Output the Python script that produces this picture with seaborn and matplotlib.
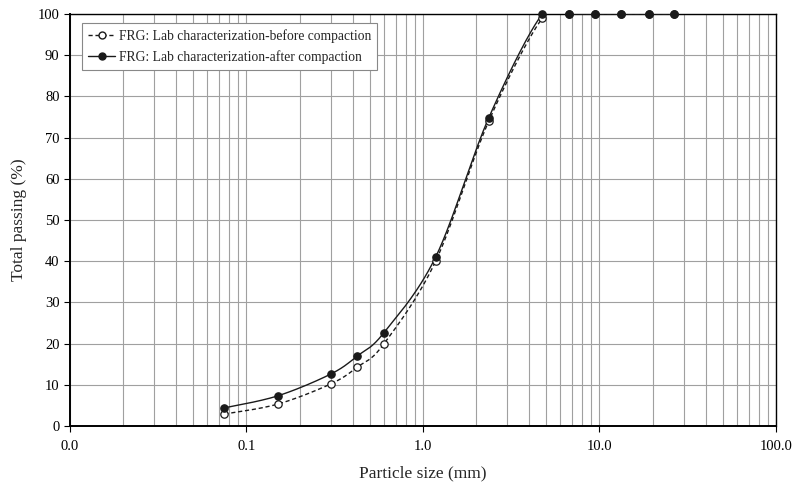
import numpy as np
import pandas as pd
import matplotlib.pyplot as plt
import seaborn as sns
from matplotlib.lines import Line2D
from matplotlib.ticker import FormatStrFormatter, LogLocator, MultipleLocator

# sieve sizes (mm)
sizes = [0.075, 0.15, 0.3, 0.425, 0.6, 1.18, 2.36, 4.75, 6.7, 9.5, 13.2, 19.0, 26.5]
before_pass = [2.9, 5.3, 10.2, 14.3, 19.9, 40.0, 74.0, 99.0, 100, 100, 100, 100, 100]
after_pass = [4.4, 7.3, 12.6, 17.0, 22.6, 41.0, 74.8, 100, 100, 100, 100, 100, 100]
labels = ["FRG: Lab characterization-before compaction",
          "FRG: Lab characterization-after compaction"]

LINE = "#1a1a1a"


def smooth(xs, ys, n=30):
    """Excel-like smoothed line: bezier through points in log-x space."""
    px = np.log10(np.asarray(xs, float))
    py = np.asarray(ys, float)
    px = np.concatenate([[px[0]], px, [px[-1]]])
    py = np.concatenate([[py[0]], py, [py[-1]]])
    t = np.linspace(0, 1, n)
    out_x, out_y = [], []
    for i in range(1, len(px) - 2):
        p0 = np.array([px[i], py[i]])
        p3 = np.array([px[i + 1], py[i + 1]])
        c1 = p0 + (np.array([px[i + 1], py[i + 1]]) - np.array([px[i - 1], py[i - 1]])) / 6
        c2 = p3 - (np.array([px[i + 2], py[i + 2]]) - np.array([px[i], py[i]])) / 6
        b = ((1 - t) ** 3)[:, None] * p0 + (3 * (1 - t) ** 2 * t)[:, None] * c1 \
            + (3 * (1 - t) * t ** 2)[:, None] * c2 + (t ** 3)[:, None] * p3
        out_x.append(b[:, 0])
        out_y.append(b[:, 1])
    return 10 ** np.concatenate(out_x), np.concatenate(out_y)


sns.set_style("white")
plt.rcParams["font.family"] = ["Liberation Serif", "DejaVu Serif"]

fig = plt.figure(figsize=(7.95, 4.83), dpi=100)
ax = fig.add_axes([0.088, 0.118, 0.888, 0.853])

ax.set_xscale("log")

bx, by = smooth(sizes, before_pass)
ax_, ay = smooth(sizes, after_pass)
curves = pd.DataFrame({
    "x": np.concatenate([bx, ax_]),
    "y": np.concatenate([by, ay]),
    "series": [labels[0]] * len(bx) + [labels[1]] * len(ax_),
})
sns.lineplot(data=curves, x="x", y="y", hue="series", style="series",
             palette=[LINE, LINE], dashes=[(3, 2), ""], sort=False,
             estimator=None, linewidth=1.0, legend=False, ax=ax, zorder=3)

pts = pd.DataFrame({
    "x": sizes + sizes,
    "y": before_pass + after_pass,
    "series": [labels[0]] * len(sizes) + [labels[1]] * len(sizes),
})
sns.scatterplot(data=pts[pts.series == labels[0]], x="x", y="y", marker="o",
                s=28, facecolor="white", edgecolor=LINE, linewidth=0.9,
                legend=False, ax=ax, zorder=4, clip_on=False)
sns.scatterplot(data=pts[pts.series == labels[1]], x="x", y="y", marker="o",
                s=28, color=LINE, edgecolor=LINE, linewidth=0.9,
                legend=False, ax=ax, zorder=5, clip_on=False)

ax.set_xlim(0.01, 100)
ax.set_ylim(0, 100)
ax.yaxis.set_major_locator(MultipleLocator(10))
ax.xaxis.set_major_locator(LogLocator(base=10, numticks=10))
ax.xaxis.set_minor_locator(LogLocator(base=10, subs=np.arange(2, 10), numticks=20))
ax.xaxis.set_major_formatter(FormatStrFormatter("%.1f"))

ax.grid(True, which="major", axis="both", color="#a0a0a0", linewidth=0.8)
ax.grid(True, which="minor", axis="x", color="#a0a0a0", linewidth=0.8)
ax.set_axisbelow(True)

for side in ["left", "bottom", "top", "right"]:
    ax.spines[side].set_color("black")
    ax.spines[side].set_linewidth(1.0)
ax.spines["left"].set_linewidth(1.4)
ax.spines["bottom"].set_linewidth(1.4)

ax.tick_params(axis="both", which="major", direction="out", length=4,
               width=0.8, labelsize=10.5, colors="black", bottom=True, left=True)
ax.tick_params(axis="x", which="minor", direction="out", length=0, bottom=True)
ax.tick_params(axis="x", which="major", pad=6)

ax.set_xlabel("Particle size (mm)", fontsize=12.5, labelpad=9)
ax.set_ylabel("Total passing (%)", fontsize=12.5, labelpad=8)

handles = [
    Line2D([], [], color=LINE, linestyle=(0, (3, 2)), linewidth=1.0, marker="o",
           markerfacecolor="white", markeredgecolor=LINE, markersize=5),
    Line2D([], [], color=LINE, linewidth=1.0, marker="o",
           markerfacecolor=LINE, markeredgecolor=LINE, markersize=5),
]
leg = ax.legend(handles, labels, loc="upper left", bbox_to_anchor=(0.017, 0.978),
                borderaxespad=0, fontsize=9.8, frameon=True, fancybox=False,
                framealpha=1, edgecolor="#888888", handlelength=2.0,
                borderpad=0.45, labelspacing=0.55, handletextpad=0.25)
leg.get_frame().set_linewidth(0.8)

fig.savefig("out.png", dpi=100)
plt.close(fig)
